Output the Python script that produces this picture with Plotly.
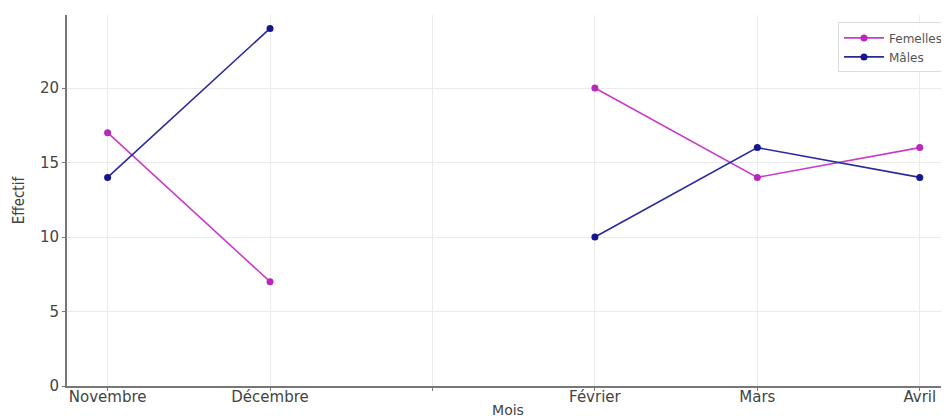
import plotly.graph_objects as go

mois = ["Novembre", "Décembre", "Janvier", "Février", "Mars", "Avril"]
tick_labels = ["Novembre", "Décembre", "", "Février", "Mars", "Avril"]
femelles = [17, 7, None, 20, 14, 16]
males = [14, 24, None, 10, 16, 14]

x_idx = list(range(len(mois)))

fig = go.Figure()
fig.add_trace(go.Scatter(
    x=x_idx, y=femelles, mode="lines+markers", name="Femelles",
    line=dict(color="#c83cc8", width=1.6),
    marker=dict(color="#b52ab8", size=7),
    connectgaps=False,
))
fig.add_trace(go.Scatter(
    x=x_idx, y=males, mode="lines+markers", name="Mâles",
    line=dict(color="#2a2a9a", width=1.6),
    marker=dict(color="#16168e", size=7),
    connectgaps=False,
))

fig.update_layout(
    width=949, height=419,
    margin=dict(l=59, r=8, t=7, b=41, autoexpand=False),
    plot_bgcolor="white", paper_bgcolor="white",
    font=dict(family="DejaVu Sans", size=14, color="#333333"),
    showlegend=True,
    legend=dict(
        x=1.0, y=0.98, xanchor="right", yanchor="top",
        bgcolor="rgba(255,255,255,0.9)", bordercolor="#dddddd", borderwidth=1,
        font=dict(size=12, color="#555555"),
        itemwidth=40,
        tracegroupgap=0,
    ),
    xaxis=dict(
        range=[-0.25, 5.18],
        tickmode="array", tickvals=x_idx, ticktext=tick_labels,
        showgrid=True, gridcolor="#ebebeb", gridwidth=1,
        zeroline=False,
        showline=True, linecolor="#777777", linewidth=2,
        ticks="outside", ticklen=3, tickcolor="#777777",
        ticklabelstandoff=-7,
        tickfont=dict(size=15, color="#444444"),
        title=dict(text="Mois", font=dict(size=14, color="#444444"), standoff=0),
    ),
    yaxis=dict(
        range=[0, 24.9],
        tickvals=[0, 5, 10, 15, 20],
        showgrid=True, gridcolor="#ebebeb", gridwidth=1,
        zeroline=False,
        showline=True, linecolor="#777777", linewidth=2,
        ticks="outside", ticklen=3, tickcolor="#777777",
        tickfont=dict(size=15, color="#444444"),
        title=dict(text="Effectif", font=dict(family="DejaVu Sans Condensed", size=15, color="#444444"), standoff=12),
    ),
)

fig.write_html("out.html")
